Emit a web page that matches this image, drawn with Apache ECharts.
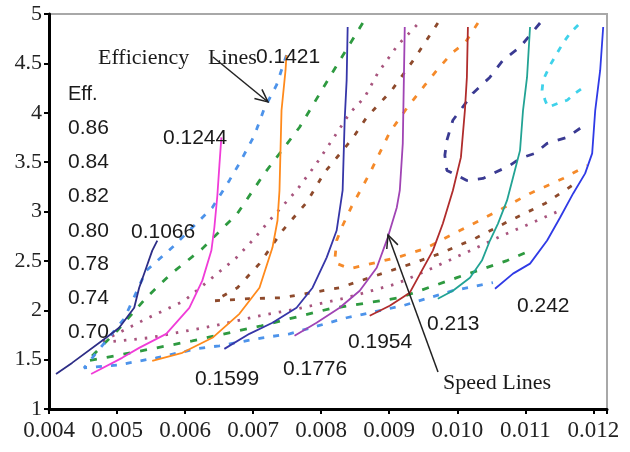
<!DOCTYPE html>
<html>
<head>
<meta charset="utf-8">
<script src="https://cdn.jsdelivr.net/npm/echarts@6/dist/echarts.min.js"></script>
<style>
html, body { margin: 0; background: #fff; }
#main { width: 630px; height: 452px; }
</style>
</head>
<body>
<div id="main"></div>
<script>
// 转速线 (speed lines)
var speedNames = ['0.1066', '0.1244', '0.1421', '0.1599', '0.1776', '0.1954', '0.213', '0.242'];
var speed1066 = [[0.004103,1.355],[0.004339,1.467],[0.004839,1.721],[0.005031,1.822],[0.005252,2.025],[0.005325,2.228],[0.005429,2.431],[0.005517,2.604],[0.005591,2.706]];
var speed1244 = [[0.004619,1.355],[0.005075,1.518],[0.005325,1.619],[0.005723,1.761],[0.006062,2.025],[0.006253,2.300],[0.006386,2.604],[0.006430,2.838],[0.006474,3.162],[0.006504,3.467],[0.006533,3.751]];
var speed1421 = [[0.005517,1.487],[0.005959,1.569],[0.006401,1.721],[0.006798,1.964],[0.007093,2.228],[0.007284,2.635],[0.007358,2.909],[0.007387,3.213],[0.007417,4.025],[0.007476,4.431],[0.007490,4.584]];
var speed1599 = [[0.006577,1.609],[0.006945,1.761],[0.007284,1.873],[0.007638,2.025],[0.007873,2.228],[0.008080,2.533],[0.008227,2.807],[0.008315,3.213],[0.008345,3.924],[0.008374,4.330],[0.008389,4.868]];
var speed1776 = [[0.007608,1.741],[0.007932,1.873],[0.008271,2.025],[0.008566,2.198],[0.008816,2.431],[0.008978,2.736],[0.009111,3.041],[0.009155,3.213],[0.009199,3.690],[0.009228,4.868]];
var speed1954 = [[0.008713,1.944],[0.009007,2.046],[0.009302,2.178],[0.009479,2.401],[0.009641,2.604],[0.009788,2.878],[0.009935,3.213],[0.010053,3.548],[0.010112,4.025],[0.010141,4.360],[0.010156,4.868]];
var speed213 = [[0.009714,2.117],[0.009935,2.198],[0.010186,2.330],[0.010362,2.503],[0.010480,2.706],[0.010598,2.878],[0.010731,3.112],[0.010819,3.345],[0.010922,3.619],[0.010966,4.025],[0.011025,4.360],[0.011069,4.868]];
var speed242 = [[0.010554,2.218],[0.010819,2.371],[0.011069,2.472],[0.011320,2.706],[0.011511,2.939],[0.011703,3.183],[0.011879,3.386],[0.011982,3.589],[0.012027,4.025],[0.012100,4.431],[0.012144,4.868]];

// 效率线 (efficiency lines)
var effNames = ['0.86', '0.84', '0.82', '0.80', '0.78', '0.74', '0.70'];
var eff86 = [[0.011776,4.888],[0.011658,4.807],[0.011555,4.706],[0.011467,4.604],[0.011364,4.482],[0.011261,4.330],[0.011246,4.228],[0.011290,4.127],[0.011334,4.056],[0.011482,4.096],[0.011614,4.127],[0.011732,4.198],[0.011835,4.249]];
var eff84 = [[0.011216,4.909],[0.010922,4.665],[0.010672,4.533],[0.010480,4.360],[0.010230,4.198],[0.009935,3.924],[0.009847,3.721],[0.009817,3.569],[0.009847,3.416],[0.010141,3.315],[0.010377,3.335],[0.010775,3.467],[0.010922,3.538],[0.011143,3.589],[0.011320,3.690],[0.011614,3.751],[0.011806,3.843]];
var eff82 = [[0.010303,4.909],[0.010112,4.706],[0.009920,4.604],[0.009700,4.431],[0.009523,4.279],[0.009258,4.046],[0.009007,3.802],[0.008713,3.386],[0.008448,3.051],[0.008315,2.858],[0.008227,2.706],[0.008197,2.482],[0.008418,2.421],[0.009110,2.533],[0.009523,2.624],[0.010038,2.807],[0.010554,2.990],[0.011069,3.183],[0.011555,3.335],[0.011909,3.467]];
var eff80 = [[0.009714,4.909],[0.009376,4.553],[0.009037,4.228],[0.008669,3.954],[0.008462,3.741],[0.008050,3.396],[0.007785,3.091],[0.007432,2.807],[0.007093,2.472],[0.006769,2.228],[0.006430,2.096],[0.006946,2.117],[0.007432,2.127],[0.008271,2.228],[0.009331,2.472],[0.009744,2.574],[0.010259,2.726],[0.010775,2.909],[0.011290,3.081],[0.011732,3.284]];
var eff78 = [[0.009405,4.888],[0.009125,4.685],[0.008831,4.401],[0.008639,4.157],[0.008418,3.995],[0.008227,3.792],[0.007932,3.487],[0.007638,3.213],[0.007240,2.909],[0.006990,2.706],[0.006754,2.533],[0.006577,2.431],[0.005988,2.096],[0.005429,1.914],[0.004736,1.670],[0.005473,1.721],[0.006430,1.843],[0.007093,1.944],[0.007652,2.015],[0.008374,2.127],[0.009110,2.269],[0.009552,2.401],[0.009935,2.523],[0.010289,2.635],[0.010657,2.756],[0.011040,2.868],[0.011511,3.010]];
var eff74 = [[0.008610,4.909],[0.008168,4.411],[0.007682,3.853],[0.007166,3.386],[0.006769,2.980],[0.006253,2.624],[0.005797,2.371],[0.005429,2.127],[0.005001,1.792],[0.004560,1.487],[0.005208,1.569],[0.006106,1.690],[0.007122,1.843],[0.008124,2.015],[0.009155,2.127],[0.009994,2.330],[0.010731,2.503],[0.011069,2.604]];
var eff70 = [[0.007490,4.584],[0.007343,4.279],[0.007166,4.046],[0.007019,3.772],[0.006798,3.487],[0.006651,3.315],[0.006401,3.041],[0.006209,2.909],[0.005841,2.655],[0.005429,2.401],[0.005105,1.914],[0.004515,1.416],[0.005031,1.447],[0.005576,1.518],[0.006165,1.609],[0.006504,1.640],[0.007137,1.721],[0.007535,1.761],[0.008374,1.924],[0.009199,2.046],[0.009935,2.198],[0.010524,2.279]];

var speedData = [speed1066, speed1244, speed1421, speed1599, speed1776, speed1954, speed213, speed242];
var speedColors = ['#2d2d86', '#f03cd8', '#ff8a1c', '#3636a8', '#a044b4', '#b02c2c', '#22a394', '#2f3ae6'];
var effData = [eff86, eff84, eff82, eff80, eff78, eff74, eff70];
var effColors = ['#3fd2ea', '#3a3a92', '#f58a2a', '#8e4a2c', '#a8557e', '#2e9a40', '#4d93ea'];
var effDash = [[6, 8], [8, 10], [6, 10], [5, 10], [2.5, 8], [7, 10], [6, 9]];

var chart = echarts.init(document.getElementById('main'));

var series = [];
// 效率线先画
effData.forEach(function(d, i) {
    series.push({
        name: 'Eff ' + effNames[i],
        type: 'line',
        data: d,
        showSymbol: false,
        silent: true,
        lineStyle: { color: effColors[i], width: 2.8, type: effDash[i] }
    });
});
speedData.forEach(function(d, i) {
    series.push({
        name: speedNames[i],
        type: 'line',
        data: d,
        showSymbol: false,
        silent: true,
        lineStyle: { color: speedColors[i], width: 1.8 }
    });
});

var sansFont = '"Liberation Sans", Arial, sans-serif';
var serifFont = '"Liberation Serif", "Times New Roman", serif';

function txt(s, x, y, font, size, align) {
    return {
        type: 'text', left: x, top: y, z: 100,
        style: { text: s, font: size + 'px ' + font, fill: '#1a1a1a', textAlign: align || 'left', textVerticalAlign: 'middle' }
    };
}

var graphics = [];
// 效率图例
graphics.push(txt('Eff.', 68, 84, sansFont, 20));
var effLabelY = [118, 152, 186, 221, 254, 288, 322];
effNames.forEach(function(n, i) {
    graphics.push(txt(n, 68, effLabelY[i], sansFont, 21));
});
// 转速标注
var speedLabelPos = [[131, 222], [163, 128], [256, 47], [195, 369], [283, 359], [348, 332], [427, 314], [517, 296]];
speedNames.forEach(function(n, i) {
    graphics.push(txt(n, speedLabelPos[i][0], speedLabelPos[i][1], sansFont, 21));
});
graphics.push(txt('Efficiency', 98, 47, serifFont, 22));
graphics.push(txt('Lines', 208, 47, serifFont, 22));
graphics.push(txt('Speed Lines', 443, 372, serifFont, 22));

// 箭头
function arrow(x1, y1, x2, y2) {
    var dx = x2 - x1, dy = y2 - y1, len = Math.sqrt(dx * dx + dy * dy);
    var ux = -dx / len, uy = -dy / len, a = 25 * Math.PI / 180, L = 14;
    var w1 = [x2 + L * (ux * Math.cos(a) - uy * Math.sin(a)), y2 + L * (ux * Math.sin(a) + uy * Math.cos(a))];
    var w2 = [x2 + L * (ux * Math.cos(a) + uy * Math.sin(a)), y2 + L * (-ux * Math.sin(a) + uy * Math.cos(a))];
    graphics.push({ type: 'line', z: 100, shape: { x1: x1, y1: y1, x2: x2, y2: y2 }, style: { stroke: '#222', lineWidth: 1.5 } });
    graphics.push({ type: 'polyline', z: 100, shape: { points: [w1, [x2, y2], w2] }, style: { stroke: '#222', lineWidth: 1.5, fill: null } });
}
arrow(213, 57, 268, 102);
arrow(438, 372, 388, 235);

chart.setOption({
    backgroundColor: '#fff',
    animation: false,
    grid: { left: 49, right: 23, top: 14, bottom: 43, show: true, borderColor: '#a8a8a8', borderWidth: 2, backgroundColor: '#fff' },
    xAxis: {
        type: 'value', min: 0.004, max: 0.0122, interval: 0.001,
        axisLine: { lineStyle: { color: '#000', width: 3 } },
        axisTick: { show: true, length: 5, lineStyle: { color: '#000', width: 2 } },
        splitLine: { show: false },
        axisLabel: {
            margin: 10, color: '#222', fontFamily: serifFont, fontSize: 23,
            formatter: function(v) {
                var k = Math.round(v * 1000);
                return Math.abs(v * 1000 - k) < 1e-6 ? (k / 1000).toFixed(3) : '';
            }
        }
    },
    yAxis: {
        type: 'value', min: 1, max: 5, interval: 0.5,
        axisLine: { show: true, lineStyle: { color: '#000', width: 3 } },
        axisTick: { show: true, length: 5, lineStyle: { color: '#000', width: 2 } },
        splitLine: { show: false },
        axisLabel: { margin: 7, color: '#222', fontFamily: serifFont, fontSize: 22 }
    },
    series: series,
    graphic: graphics
});
</script>
</body>
</html>
